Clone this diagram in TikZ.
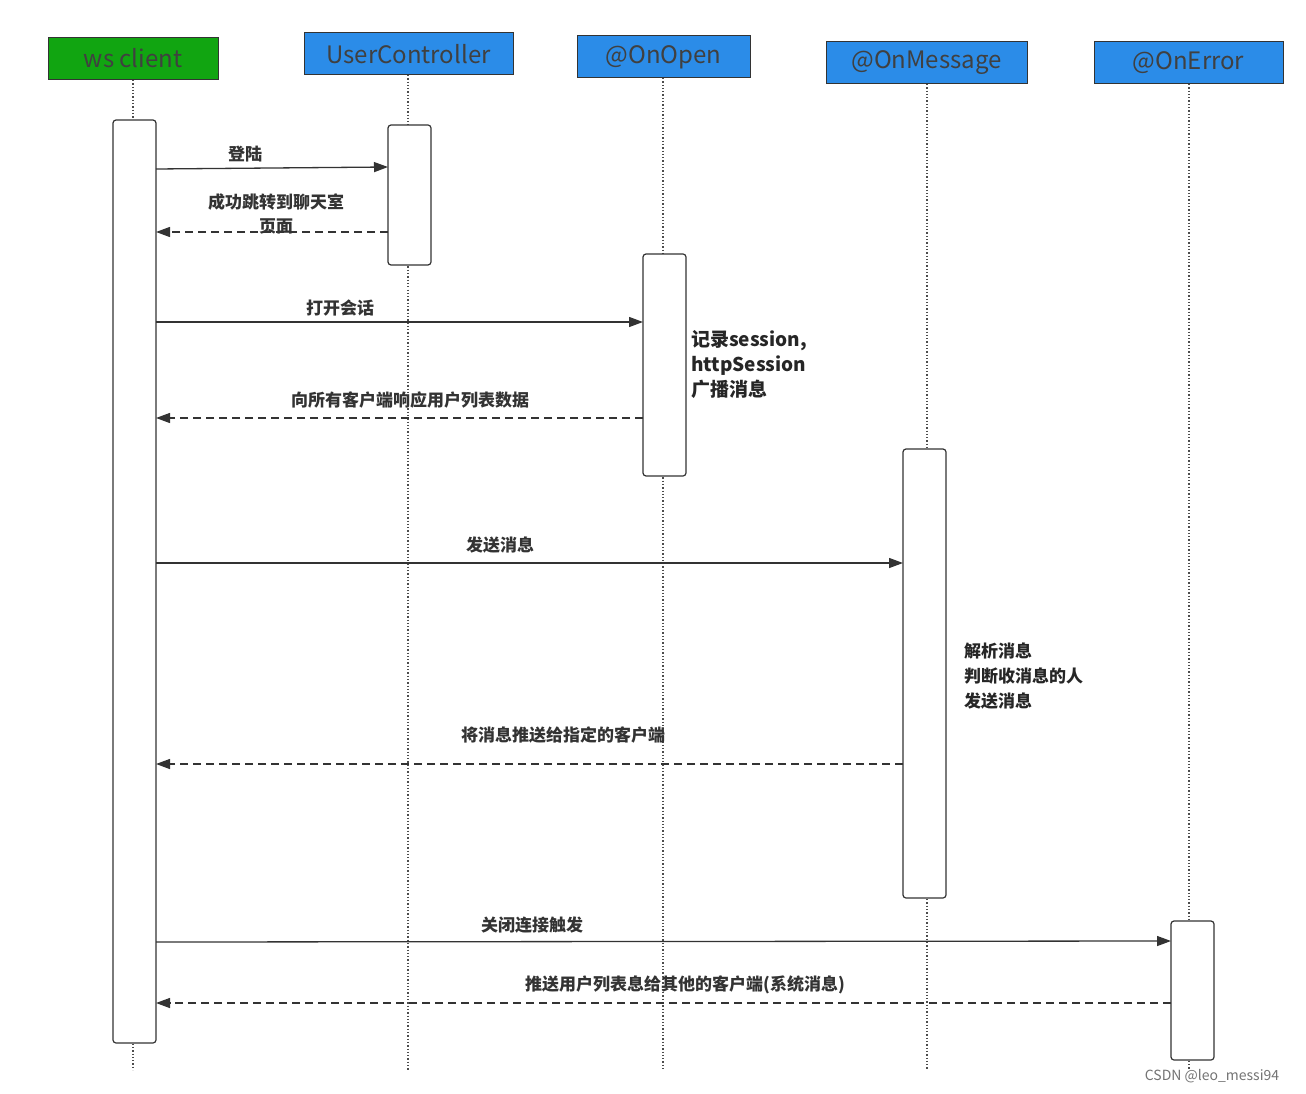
\documentclass[tikz,border=0pt]{standalone}
\usepackage{fontspec}
\setmainfont{Noto Sans CJK SC}
\usetikzlibrary{arrows.meta}
\begin{document}
\begin{tikzpicture}[x=1pt,y=-1pt,
 hdr/.style={draw=black!80,line width=1pt,fill=blue!60!cyan!80!white,minimum height=42pt,inner sep=0pt,font=\fontsize{24}{26}\selectfont,text=black!75},
 act/.style={draw=black!80,line width=1.2pt,fill=white,rounded corners=3pt},
 life/.style={line width=1.3pt,dotted,black!70},
 msg/.style={line width=1.3pt,black!80,-{Triangle[length=14pt,width=10pt]}},
 ret/.style={msg,dashed,dash pattern=on 8pt off 5pt},
 lab/.style={font=\bfseries\fontsize{17}{19}\selectfont,text=black!80},
 note/.style={font=\bfseries\fontsize{19}{25}\selectfont,align=left,anchor=north west,text=black!85,inner sep=0pt}]
\useasboundingbox (0,0) rectangle (1306,1094);
\definecolor{hb}{HTML}{2B8CE8}\definecolor{hg}{HTML}{11A511}
\foreach \x/\b in {133/80,408/75,663/78,927/84,1189/84}{\draw[life] (\x,\b)--(\x,1070);}
\node[hdr,fill=hg,minimum width=170pt] (c) at (133,58.5) {ws client};
\node[hdr,fill=hb,minimum width=209pt] (u) at (408.5,54) {UserController};
\node[hdr,fill=hb,minimum width=173pt] (o) at (663.5,57) {@OnOpen};
\node[hdr,fill=hb,minimum width=201pt] (m) at (926.5,62.5) {@OnMessage};
\node[hdr,fill=hb,minimum width=189pt] (e) at (1188.5,62.5) {@OnError};
\draw[act] (113,120) rectangle (156,1043);
\draw[act] (388,125) rectangle (431,265);
\draw[act] (643,254) rectangle (686,476);
\draw[act] (903,449) rectangle (946,898);
\draw[act] (1171,921) rectangle (1214,1060);
\coordinate (a1) at (156,169); \coordinate (b1) at (388,167);
\coordinate (a2) at (388,232); \coordinate (b2) at (156,232);
\coordinate (a3) at (156,322); \coordinate (b3) at (643,322);
\coordinate (a4) at (643,418); \coordinate (b4) at (156,418);
\coordinate (a5) at (156,563); \coordinate (b5) at (903,563);
\coordinate (a6) at (903,764); \coordinate (b6) at (156,764);
\coordinate (a7) at (156,942); \coordinate (b7) at (1171,941);
\coordinate (a8) at (1171,1003); \coordinate (b8) at (156,1003);
\draw[msg] (a1)--(b1); \draw[ret] (a2)--(b2);
\draw[msg] (a3)--(b3); \draw[ret] (a4)--(b4);
\draw[msg] (a5)--(b5); \draw[ret] (a6)--(b6);
\draw[msg] (a7)--(b7); \draw[ret] (a8)--(b8);
\node[lab] (l1) at (245,154) {登陆};
\node[lab,align=center,font=\bfseries\fontsize{17}{24}\selectfont] (l2) at (276,214) {成功跳转到聊天室\\页面};
\node[lab] (l3) at (340,308) {打开会话};
\node[lab] (l4) at (410,400) {向所有客户端响应用户列表数据};
\node[lab] (l5) at (500,545) {发送消息};
\node[lab] (l6) at (563,735) {将消息推送给指定的客户端};
\node[lab] (l7) at (532,925) {关闭连接触发};
\node[lab] (l8) at (685,985) {推送用户列表息给其他的客户端(系统消息)};
\node[note] (n1) at (691,330) {记录session,\\httpSession\\广播消息};
\node[note,font=\bfseries\fontsize{17}{25}\selectfont] (n2) at (964,643) {解析消息\\判断收消息的人\\发送消息};
\node[font=\fontsize{14}{15}\selectfont,text=black!55] (w) at (1212,1076) {CSDN @leo\_messi94};
\end{tikzpicture}
\end{document}
